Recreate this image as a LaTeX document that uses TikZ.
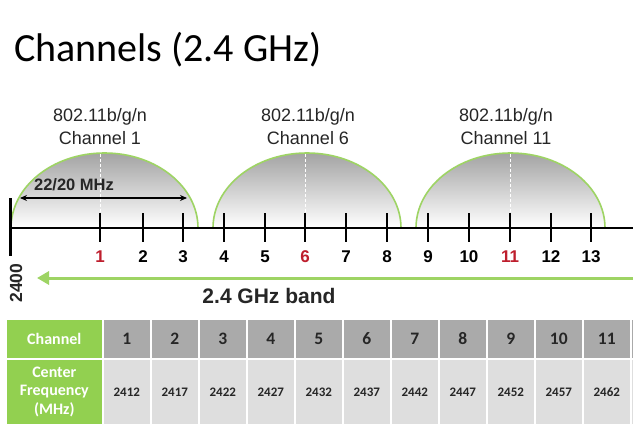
\documentclass[tikz,border=0pt]{standalone}
\usepackage{fontspec}
\setmainfont{Liberation Sans}
\newfontfamily\calfont{Carlito}
\usetikzlibrary{arrows.meta}
\definecolor{lgreen}{RGB}{158,212,100}
\definecolor{tgreen}{RGB}{146,208,80}
\definecolor{hgrey}{RGB}{170,170,170}
\definecolor{bgrey}{RGB}{222,222,222}
\definecolor{chred}{RGB}{190,30,45}
\tikzset{
  axisline/.style={line width=2.4pt, black},
  tickmark/.style={line width=2.4pt, black},
  ticklab/.style={font=\fontsize{17}{17}\selectfont\bfseries, inner sep=0pt},
  domefill/.style={top color=black!36, bottom color=white},
  domeedge/.style={draw=lgreen, line width=1.6pt},
  domelab/.style={font=\fontsize{18}{23}\selectfont, align=center, text=black!85, inner sep=0pt},
  cell/.style={draw=white, line width=1.6pt, inner sep=0pt, anchor=north west,
    minimum width=48pt, font=\calfont\bfseries},
  hcell/.style={cell, fill=hgrey, minimum height=40pt, text height=11.5pt, text depth=0pt,
    font=\calfont\bfseries\fontsize{17.5}{17.5}\selectfont, text=black!85},
  bcell/.style={cell, fill=bgrey, minimum height=66pt, text height=8.5pt, text depth=0pt,
    font=\calfont\bfseries\fontsize{13}{13}\selectfont, text=black!85},
  gcell/.style={cell, fill=tgreen, minimum width=97pt, text=white, align=center,
    font=\calfont\bfseries\fontsize{16}{18.5}\selectfont},
}
\begin{document}
\begin{tikzpicture}[x=1pt,y=-1pt]
\useasboundingbox[fill=white] (0,0) rectangle (633,428);
% title
\node[anchor=base west, inner sep=0pt] (title) at (14,62) {\calfont\fontsize{40}{40}\selectfont Channels (2.4 GHz)};
% domes
\foreach \n/\cx/\rx in {1/104.5/93.5, 2/307/94, 3/510.5/94.5}{
  \fill[domefill] (\cx-\rx,228) arc[start angle=180, end angle=360, x radius=\rx, y radius=75] -- cycle;
  \draw[domeedge] (\cx-\rx,228) arc[start angle=180, end angle=360, x radius=\rx, y radius=75];
}
\foreach \x in {100,305,510}{
  \draw[white, dashed, line width=0.7pt, dash pattern=on 3pt off 2pt] (\x,154) -- (\x,212);
}
% dome labels
\node[domelab] (d1) at (100,127) {802.11b/g/n\\Channel 1};
\node[domelab] (d6) at (308,127) {802.11b/g/n\\Channel 6};
\node[domelab] (d11) at (506,127) {802.11b/g/n\\Channel 11};
% axis
\draw[axisline] (10,228) -- (633,228);
\draw[axisline] (10.5,198) -- (10.5,256);
\foreach \i/\x in {1/100,2/143,3/183,4/224,5/265,6/305,7/346,8/387,9/428,10/469,11/510,12/551,13/591}{
  \draw[tickmark] (\x,213) -- (\x,242);
}
\foreach \i/\x in {2/143,3/183,4/224,5/265,7/346,8/387,9/428,10/469,12/551,13/591}{
  \node[ticklab] (t\i) at (\x,257) {\i};
}
\node[ticklab, text=chred] (t1) at (100,257) {1};
\node[ticklab, text=chred] (t6) at (305,257) {6};
\node[ticklab, text=chred] (t11) at (510,257) {11};
% width arrow
\coordinate (wl) at (20,198);
\coordinate (wr) at (187,198);
\draw[line width=1.1pt, {Stealth[length=7pt,width=6pt]}-{Stealth[length=7pt,width=6pt]}] (wl) -- (wr);
\node[font=\fontsize{16.5}{16.5}\selectfont\bfseries, inner sep=0pt, text=black!85] (wlab) at (74,185) {22/20 MHz};
% band arrow
\coordinate (gr) at (640,278);
\coordinate (gl) at (37,278);
\draw[lgreen, line width=3pt, -{Triangle[length=12pt,width=13pt]}] (gr) -- (gl);
\node[font=\fontsize{21}{21}\selectfont\bfseries, inner sep=0pt, text=black!85] (band) at (269,296) {2.4 GHz band};
\node[rotate=90, font=\fontsize{17.5}{17.5}\selectfont\bfseries, inner sep=0pt, text=black!85] (f2400) at (16,283) {2400};
% table
\node[gcell, minimum height=40pt] (gc) at (5,318) {Channel};
\node[gcell, minimum height=66pt] (gf) at (5,358) {Center\\Frequency\\(MHz)};
\foreach \k/\f in {1/2412,2/2417,3/2422,4/2427,5/2432,6/2437,7/2442,8/2447,9/2452,10/2457,11/2462}{
  \node[hcell] (h\k) at ({102+48*(\k-1)},318) {\k};
  \node[bcell] (b\k) at ({102+48*(\k-1)},358) {\f};
}
\node[hcell] (h12) at (630,318) {};
\node[bcell] (b12) at (630,358) {};
\end{tikzpicture}
\end{document}
